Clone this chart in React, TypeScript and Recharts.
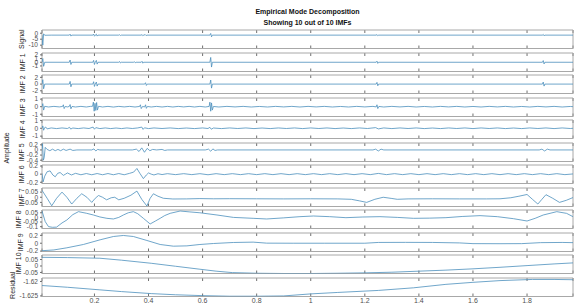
import React from "react";
import {
  LineChart,
  Line,
  XAxis,
  YAxis,
  CartesianGrid,
  ReferenceArea,
} from "recharts";

// [time, value] pairs
const signal = [
  [0.006, -1.6], [0.009, -10], [0.012, -0.5], [0.016, -1.7], [0.04, -1.6], [0.107, -1.6],
  [0.11, -0.8], [0.113, -2.4], [0.116, -1.6], [0.194, -1.6], [0.197, -0.7], [0.2, -2.5],
  [0.203, -1.6], [0.207, -0.8], [0.21, -2.4], [0.213, -1.6], [0.29, -1.6], [0.293, -1.3],
  [0.296, -1.9], [0.299, -1.6], [0.373, -1.6], [0.376, -1.1], [0.379, -2.1], [0.382, -1.6],
  [0.388, -1.2], [0.391, -2.0], [0.394, -1.6], [0.627, -1.6], [0.63, -0.2], [0.633, -3.0],
  [0.636, -1.6], [1.242, -1.6], [1.245, -1.1], [1.248, -2.1], [1.251, -1.6], [1.857, -1.6],
  [1.86, -1.0], [1.863, -2.2], [1.866, -1.6], [1.97, -1.6],
];

const imf1 = [
  [0.006, 0], [0.009, 1.0], [0.012, -1.1], [0.016, 0], [0.107, 0], [0.11, 0.6], [0.113, -0.6],
  [0.116, 0], [0.194, 0], [0.197, 0.5], [0.2, -0.6], [0.203, 0], [0.207, 0.5], [0.21, -0.5],
  [0.213, 0], [0.29, 0], [0.293, 0.2], [0.296, -0.2], [0.299, 0], [0.345, 0], [0.348, 0.15],
  [0.351, -0.15], [0.354, 0], [0.373, 0], [0.376, 0.25], [0.379, -0.25], [0.382, 0], [0.627, 0],
  [0.63, 1.3], [0.633, -1.3], [0.636, 0], [1.242, 0], [1.245, 0.3], [1.248, -0.3], [1.251, 0],
  [1.857, 0], [1.86, 0.45], [1.863, -0.45], [1.866, 0], [1.97, 0],
];

const imf2 = [
  [0.006, 0], [0.009, 1.3], [0.012, -1.4], [0.016, 0], [0.107, 0], [0.11, 0.8], [0.113, -0.8],
  [0.116, 0], [0.194, 0], [0.197, 0.7], [0.2, -0.7], [0.203, 0], [0.207, 0.6], [0.21, -0.6],
  [0.213, 0], [0.386, 0], [0.389, 0.4], [0.392, -0.4], [0.395, 0], [0.627, 0], [0.63, 1.2],
  [0.633, -1.2], [0.636, 0], [1.242, 0], [1.245, 0.5], [1.248, -0.5], [1.251, 0], [1.857, 0],
  [1.86, 0.6], [1.863, -0.6], [1.866, 0], [1.97, 0],
];

const imf3 = [
  [0.006, 0], [0.009, 0.4], [0.012, -0.45], [0.016, 0.05], [0.03, -0.04], [0.05, 0.04], [0.07, -0.03],
  [0.082, 0.03], [0.085, 0.25], [0.088, -0.25], [0.092, 0.03], [0.1, -0.03], [0.107, 0.03], [0.11, 0.28],
  [0.113, -0.28], [0.117, 0.03], [0.13, -0.04], [0.15, 0.04], [0.17, -0.04], [0.185, 0.04],
  [0.193, 0.05], [0.196, 0.6], [0.199, -0.6], [0.202, 0.45], [0.205, -0.5], [0.208, 0.55],
  [0.211, -0.45], [0.215, 0.05], [0.23, -0.04], [0.25, 0.04], [0.27, -0.05], [0.29, 0.04],
  [0.31, -0.03], [0.33, 0.04], [0.35, -0.04], [0.367, 0.03], [0.37, 0.25], [0.373, -0.25],
  [0.378, 0.03], [0.386, -0.03], [0.389, 0.25], [0.392, -0.22], [0.396, 0.03], [0.41, -0.04],
  [0.43, 0.04], [0.45, -0.04], [0.47, 0.04], [0.49, -0.04], [0.51, 0.04], [0.53, -0.03],
  [0.55, 0.04], [0.57, -0.04], [0.59, 0.04], [0.61, -0.04], [0.624, 0.03], [0.627, 0.6],
  [0.63, -0.6], [0.633, 0.5], [0.636, -0.45], [0.64, 0.03], [0.66, -0.04], [0.69, 0.04],
  [0.72, -0.03], [0.75, 0.04], [0.78, -0.04], [0.81, 0.03], [0.84, -0.04], [0.87, 0.04],
  [0.9, -0.03], [0.93, 0.04], [0.96, -0.04], [0.99, 0.04], [1.02, -0.03], [1.05, 0.04],
  [1.08, -0.04], [1.11, 0.03], [1.14, -0.04], [1.17, 0.04], [1.2, -0.03], [1.23, 0.04],
  [1.242, -0.03], [1.245, 0.25], [1.248, -0.25], [1.252, 0.03], [1.27, -0.04], [1.3, 0.04],
  [1.33, -0.03], [1.36, 0.04], [1.39, -0.04], [1.42, 0.03], [1.45, -0.04], [1.48, 0.04],
  [1.51, -0.03], [1.54, 0.04], [1.57, -0.04], [1.6, 0.03], [1.63, -0.04], [1.66, 0.04],
  [1.69, -0.03], [1.72, 0.04], [1.75, -0.04], [1.78, 0.03], [1.81, -0.04], [1.84, 0.04],
  [1.87, -0.03], [1.9, 0.04], [1.93, -0.04], [1.96, 0.03], [1.97, 0],
];

const imf4 = [
  [0.006, 0], [0.009, 0.3], [0.012, -0.25], [0.016, 0.08], [0.02, 0.15], [0.025, -0.08], [0.04, 0.04],
  [0.06, -0.04], [0.08, 0.04], [0.1, -0.03], [0.108, 0.12], [0.112, -0.1], [0.12, 0.03],
  [0.14, -0.04], [0.16, 0.04], [0.18, -0.03], [0.195, 0.15], [0.2, -0.12], [0.205, 0.08],
  [0.22, -0.04], [0.24, 0.04], [0.26, -0.04], [0.28, 0.03], [0.3, -0.04], [0.32, 0.04],
  [0.34, -0.03], [0.36, 0.04], [0.375, 0.15], [0.38, -0.14], [0.385, 0.06], [0.4, -0.04],
  [0.42, 0.04], [0.45, -0.03], [0.48, 0.04], [0.51, -0.04], [0.54, 0.03], [0.57, -0.04],
  [0.6, 0.04], [0.62, -0.03], [0.627, 0.12], [0.632, -0.12], [0.64, 0.03], [0.67, -0.04],
  [0.7, 0.04], [0.73, -0.03], [0.76, 0.04], [0.79, -0.04], [0.82, 0.03], [0.85, -0.04],
  [0.88, 0.04], [0.91, -0.03], [0.94, 0.04], [0.97, -0.04], [1.0, 0.04], [1.03, -0.03],
  [1.06, 0.04], [1.09, -0.04], [1.12, 0.03], [1.15, -0.04], [1.18, 0.04], [1.21, -0.03],
  [1.24, 0.08], [1.25, -0.08], [1.27, 0.04], [1.3, -0.04], [1.33, 0.04], [1.36, -0.03],
  [1.39, 0.04], [1.42, -0.04], [1.45, 0.03], [1.48, -0.04], [1.51, 0.04], [1.54, -0.03],
  [1.57, 0.04], [1.6, -0.04], [1.63, 0.04], [1.66, -0.03], [1.69, 0.04], [1.72, -0.04],
  [1.75, 0.03], [1.78, -0.04], [1.81, 0.04], [1.84, -0.03], [1.87, 0.04], [1.9, -0.04],
  [1.93, 0.04], [1.96, -0.03], [1.97, 0],
];

const imf5 = [
  [0.006, 0.05], [0.008, 0.24], [0.011, -0.4], [0.014, -0.3], [0.018, 0.1], [0.025, 0.02],
  [0.035, -0.03], [0.045, 0.03], [0.055, -0.03], [0.065, 0.02], [0.075, -0.03], [0.085, 0.03],
  [0.095, -0.02], [0.11, 0.03], [0.12, -0.02], [0.135, 0], [0.19, 0], [0.198, 0.04],
  [0.205, -0.04], [0.212, 0.02], [0.22, 0], [0.34, 0], [0.355, 0.03], [0.365, -0.06],
  [0.375, 0.08], [0.385, -0.09], [0.395, 0.06], [0.405, -0.03], [0.415, 0.02], [0.43, 0],
  [0.45, 0.02], [0.46, -0.02], [0.47, 0], [0.61, 0], [0.622, 0.03], [0.63, -0.05],
  [0.638, 0.04], [0.646, -0.02], [0.655, 0], [1.23, 0], [1.24, 0.03], [1.25, -0.04],
  [1.26, 0.03], [1.27, 0], [1.845, 0], [1.855, 0.03], [1.865, -0.04], [1.875, 0.03],
  [1.885, 0], [1.97, 0],
];

const imf6 = [
  [0.006, 0.02], [0.01, -0.19], [0.016, -0.05], [0.025, 0.06], [0.036, 0.08], [0.046, -0.02],
  [0.055, -0.065], [0.064, 0.02], [0.073, 0.04], [0.08, 0.0], [0.085, -0.03], [0.093, 0.0],
  [0.1, 0.03], [0.115, -0.02], [0.13, 0.02], [0.15, -0.015], [0.17, 0.015], [0.19, -0.015],
  [0.21, 0.015], [0.23, -0.015], [0.25, 0.015], [0.27, -0.015], [0.29, 0.015], [0.31, -0.015],
  [0.33, 0.02], [0.345, 0.05], [0.357, 0.14], [0.368, 0.02], [0.381, -0.11], [0.392, -0.02],
  [0.4, 0.03], [0.41, 0.0], [0.42, -0.02], [0.435, 0.01], [0.45, -0.01], [0.47, 0.012],
  [0.5, -0.012], [0.53, 0.012], [0.56, -0.012], [0.59, 0.012], [0.62, -0.015], [0.65, 0.012],
  [0.68, -0.012], [0.71, 0.012], [0.74, -0.012], [0.77, 0.012], [0.8, -0.012], [0.83, 0.012],
  [0.86, -0.012], [0.89, 0.012], [0.92, -0.012], [0.95, 0.012], [0.98, -0.012], [1.01, 0.012],
  [1.04, -0.012], [1.07, 0.012], [1.1, -0.012], [1.13, 0.012], [1.16, -0.012], [1.19, 0.012],
  [1.22, -0.012], [1.25, 0.018], [1.28, -0.012], [1.31, 0.012], [1.34, -0.012], [1.37, 0.012],
  [1.4, -0.012], [1.43, 0.012], [1.46, -0.012], [1.49, 0.012], [1.52, -0.012], [1.55, 0.012],
  [1.58, -0.012], [1.61, 0.012], [1.64, -0.012], [1.67, 0.012], [1.7, -0.012], [1.73, 0.012],
  [1.76, -0.012], [1.79, 0.012], [1.82, -0.012], [1.85, 0.012], [1.88, -0.012], [1.91, 0.012],
  [1.94, -0.012], [1.97, 0.005],
];

const imf7 = [
  [0.006, 0.067], [0.025, -0.01], [0.042, -0.083], [0.06, -0.01], [0.08, 0.05], [0.098, 0.0],
  [0.116, -0.066], [0.135, -0.01], [0.153, 0.034], [0.172, 0.0], [0.19, -0.05], [0.203, -0.01],
  [0.215, 0.017], [0.23, 0.0], [0.245, -0.025], [0.262, -0.005], [0.275, 0.0], [0.29, -0.025],
  [0.31, -0.01], [0.335, 0.02], [0.357, 0.06], [0.375, -0.02], [0.394, -0.085], [0.406, -0.01],
  [0.418, 0.034], [0.435, 0.01], [0.455, -0.01], [0.49, -0.017], [0.54, -0.016], [0.59, -0.013],
  [0.64, -0.015], [0.7, -0.014], [0.8, -0.015], [0.9, -0.016], [1.0, -0.015], [1.1, -0.016],
  [1.15, -0.02], [1.18, -0.035], [1.207, -0.05], [1.237, -0.02], [1.268, 0.0], [1.3, -0.012],
  [1.32, -0.02], [1.36, -0.016], [1.45, -0.015], [1.55, -0.016], [1.65, -0.016], [1.7, -0.015],
  [1.74, -0.005], [1.77, 0.01], [1.8, 0.027], [1.82, -0.02], [1.84, -0.066], [1.855, -0.02],
  [1.87, 0.025], [1.895, -0.01], [1.92, -0.05], [1.945, -0.03], [1.97, -0.003],
];

const imf8 = [
  [0.006, 0.069], [0.018, -0.046], [0.03, -0.1], [0.045, -0.107], [0.06, -0.105], [0.08, -0.06],
  [0.098, -0.028], [0.12, 0.03], [0.141, 0.062], [0.17, 0.045], [0.196, 0.026], [0.22, 0.005],
  [0.246, -0.01], [0.27, -0.017], [0.29, 0.0], [0.307, 0.026], [0.325, 0.05], [0.344, 0.062],
  [0.36, 0.04], [0.381, -0.01], [0.406, -0.071], [0.425, -0.04], [0.443, -0.01], [0.46, 0.02],
  [0.48, 0.044], [0.517, 0.069], [0.55, 0.06], [0.59, 0.05], [0.653, 0.026], [0.714, 0.0],
  [0.787, -0.01], [0.837, -0.017], [0.9, -0.005], [0.96, 0.008], [1.01, 0.015], [1.07, 0.008],
  [1.13, -0.003], [1.19, 0.004], [1.256, 0.008], [1.32, 0.0], [1.38, -0.01], [1.44, -0.008],
  [1.5, -0.003], [1.56, 0.01], [1.626, 0.019], [1.69, 0.008], [1.75, -0.014], [1.8, -0.039],
  [1.83, -0.01], [1.86, 0.026], [1.91, 0.062], [1.946, 0.044], [1.97, 0.008],
];

const imf9 = [
  [0.006, -0.19], [0.05, -0.17], [0.098, -0.116], [0.159, -0.032], [0.221, 0.087], [0.27, 0.171],
  [0.307, 0.197], [0.344, 0.171], [0.394, 0.07], [0.443, -0.032], [0.492, -0.075], [0.542, -0.067],
  [0.59, -0.032], [0.64, -0.007], [0.714, 0.019], [0.787, 0.028], [0.837, 0.002], [0.935, 0.0],
  [1.05, 0.0], [1.2, 0.0], [1.25, 0.02], [1.35, 0.022], [1.45, 0.02], [1.55, 0.008], [1.6, -0.01],
  [1.7, -0.012], [1.78, -0.01], [1.85, 0.015], [1.93, 0.02], [1.97, 0.015],
];

const imf10 = [
  [0.006, 0.067], [0.1, 0.065], [0.22, 0.06], [0.3, 0.045], [0.41, 0.021], [0.5, -0.002],
  [0.59, -0.025], [0.65, -0.04], [0.71, -0.051], [0.8, -0.056], [0.9, -0.058], [1.0, -0.058],
  [1.1, -0.056], [1.2, -0.053], [1.3, -0.048], [1.4, -0.04], [1.5, -0.032], [1.6, -0.022],
  [1.7, -0.01], [1.8, 0.003], [1.9, 0.016], [1.97, 0.024],
];

const residual = [
  [0.006, -1.6214], [0.1, -1.622], [0.22, -1.6229], [0.3, -1.6235], [0.41, -1.6242], [0.5, -1.6246],
  [0.6, -1.6249], [0.7, -1.6251], [0.8, -1.6251], [0.9, -1.625], [1.0, -1.6243], [1.1, -1.6238],
  [1.25, -1.6231], [1.38, -1.6222], [1.5, -1.621], [1.6, -1.6203], [1.7, -1.6197], [1.82, -1.6193],
  [1.9, -1.6193], [1.97, -1.6194],
];

const xTicks = [0.2, 0.4, 0.6, 0.8, 1, 1.2, 1.4, 1.6, 1.8];
const xDomain = [0.006, 1.97];

const panels = [
  { name: "Signal", data: signal, domain: [-12.8, 2.7], ticks: [-10, -5, 0], labelX: 21, labelDy: 0 },
  { name: "IMF 1", data: imf1, domain: [-2.5, 2.5], ticks: [-1, 0, 1, 2], labelX: 22, labelDy: 0 },
  { name: "IMF 2", data: imf2, domain: [-2.8, 2.7], ticks: [-2, 0, 2], labelX: 22, labelDy: 0 },
  { name: "IMF 3", data: imf3, domain: [-1.3, 1.15], ticks: [-1, 0, 1], labelX: 22, labelDy: 0 },
  { name: "IMF 4", data: imf4, domain: [-1.3, 1.05], ticks: [-1, 0, 1], labelX: 22, labelDy: 0 },
  { name: "IMF 5", data: imf5, domain: [-0.45, 0.27], ticks: [-0.4, -0.2, 0, 0.2], labelX: 21, labelDy: 0 },
  { name: "IMF 6", data: imf6, domain: [-0.23, 0.225], ticks: [-0.2, 0, 0.2], labelX: 21, labelDy: 0 },
  { name: "IMF 7", data: imf7, domain: [-0.09, 0.09], ticks: [-0.05, 0, 0.05], labelX: 21, labelDy: 0 },
  { name: "IMF 8", data: imf8, domain: [-0.12, 0.08], ticks: [-0.1, -0.05, 0, 0.05], labelX: 18, labelDy: 0 },
  { name: "IMF 9", data: imf9, domain: [-0.21, 0.26], ticks: [-0.2, 0, 0.2], labelX: 20, labelDy: 0 },
  { name: "IMF 10", data: imf10, domain: [-0.058, 0.085], ticks: [-0.05, 0, 0.05], labelX: 18, labelDy: -1 },
  { name: "Residual", data: residual, domain: [-1.6252, -1.6188], ticks: [-1.625, -1.62], labelX: 12, labelDy: -2 },
];

const FONT = '"Liberation Sans", Arial, Helvetica, sans-serif';
const LINE = "#4b8fbd";
const BOX = "#a8a8a8";
const TICK = "#707070";
const TEXT = "#505050";
const W = 579;
const TOP0 = 30;
const PITCH = 22.5;
const PH = 18.5;

const toPts = (a: number[][]) => a.map(([x, y]) => ({ x, y }));

function Panel({ p, i, last }: { p: any; i: number; last: boolean }) {
  const h = last ? PH + 10 : PH;
  return (
    <div style={{ position: "absolute", left: 0, top: TOP0 + PITCH * i }}>
      <LineChart width={W} height={h} margin={{ top: 0, right: 0, bottom: 0, left: 0 }}>
        <CartesianGrid horizontal={false} stroke={TICK} strokeDasharray={`3 ${PH - 6}`} />
        <XAxis
          type="number"
          dataKey="x"
          domain={xDomain}
          ticks={xTicks}
          allowDataOverflow
          interval={0}
          hide={!last}
          height={10}
          axisLine={false}
          tickLine={false}
          tickSize={1}
          tickMargin={1}
          tick={{ fontSize: 7, fill: TEXT, fontFamily: FONT }}
        />
        <YAxis
          yAxisId="l"
          type="number"
          domain={p.domain}
          ticks={p.ticks}
          allowDataOverflow
          interval={0}
          width={42}
          axisLine={false}
          tickSize={2}
          tickMargin={2}
          tickLine={{ stroke: TICK }}
          tick={{ fontSize: 6.5, fill: TEXT, fontFamily: FONT }}
          label={(lp: any) => {
            const vb = lp.viewBox || {};
            const cy = (vb.y || 0) + PH / 2 + p.labelDy;
            return (
              <text
                x={p.labelX}
                y={cy}
                transform={`rotate(-90 ${p.labelX} ${cy})`}
                textAnchor="middle"
                dominantBaseline="central"
                fontSize={7}
                fill="#262626"
                fontFamily={FONT}
              >
                {p.name}
              </text>
            );
          }}
        />
        <YAxis
          yAxisId="r"
          orientation="right"
          type="number"
          domain={p.domain}
          ticks={p.ticks}
          allowDataOverflow
          width={6}
          axisLine={false}
          tick={false}
          tickSize={2}
          tickLine={{ stroke: TICK }}
        />
        <ReferenceArea
          yAxisId="l"
          y1={p.domain[0]}
          y2={p.domain[1]}
          fill="none"
          stroke={BOX}
          strokeWidth={1}
          ifOverflow="visible"
        />
        <Line
          yAxisId="l"
          data={toPts(p.data)}
          dataKey="y"
          type="linear"
          stroke={LINE}
          strokeWidth={0.8}
          dot={false}
          isAnimationActive={false}
        />
      </LineChart>
    </div>
  );
}

export default function App() {
  return (
    <div
      style={{
        position: "absolute",
        left: 0,
        top: 0,
        width: W,
        height: 307,
        overflow: "hidden",
        background: "#fff",
        fontFamily: FONT,
      }}
    >
      <style>{".recharts-surface{overflow:visible}"}</style>
      <div style={{ position: "absolute", left: 42, width: 531, top: 8, textAlign: "center", fontSize: 7, fontWeight: "bold", lineHeight: "8px", color: "#111" }}>
        Empirical Mode Decomposition
      </div>
      <div style={{ position: "absolute", left: 42, width: 531, top: 18.5, textAlign: "center", fontSize: 7, fontWeight: "bold", lineHeight: "8px", color: "#111" }}>
        Showing 10 out of 10 IMFs
      </div>
      <svg style={{ position: "absolute", left: 0, top: 0 }} width={12} height={307}>
        <text x={6} y={148} transform="rotate(-90 6 148)" textAnchor="middle" dominantBaseline="central" fontSize={7} fill="#262626" fontFamily={FONT}>
          Amplitude
        </text>
      </svg>
      {panels.map((p, i) => (
        <Panel key={p.name} p={p} i={i} last={i === panels.length - 1} />
      ))}
    </div>
  );
}
